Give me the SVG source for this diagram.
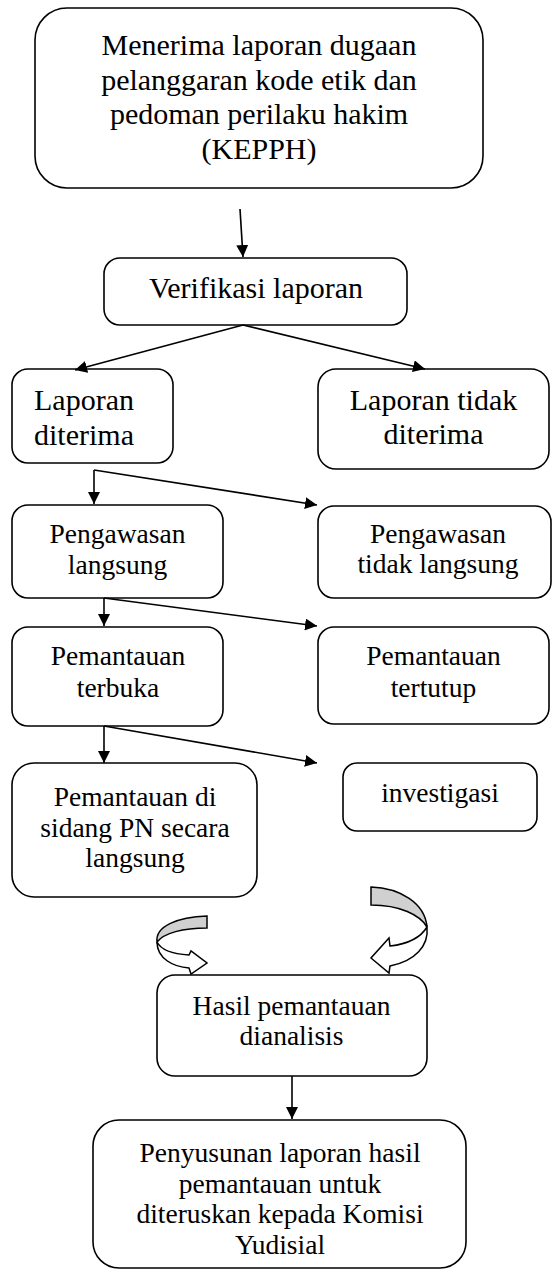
<svg xmlns="http://www.w3.org/2000/svg" width="552" height="1272" viewBox="0 0 552 1272">
<style>
.box{fill:#fff;stroke:#000;stroke-width:1.6}
.t{font-family:"Liberation Serif","Times New Roman",serif;fill:#000;text-anchor:middle}
.big{font-size:30px}
.sm{font-size:27.5px}
.ln{fill:none;stroke:#000;stroke-width:1.6}
.ca{stroke:#000;stroke-width:1.5;stroke-linejoin:miter}
</style>
<defs>
<marker id="ah" markerWidth="12" markerHeight="12" refX="12" refY="6" orient="auto" markerUnits="userSpaceOnUse">
<path d="M0,0 L12,6 L0,12 Z" fill="#000"/>
</marker>
</defs>
<rect width="552" height="1272" fill="#fff"/>
<g id="n1">
<rect class="box" x="35" y="8" width="448" height="180" rx="32"/>
<text class="t big" x="259" y="55">Menerima laporan dugaan</text>
<text class="t big" x="259" y="89.5">pelanggaran kode etik dan</text>
<text class="t big" x="259" y="124">pedoman perilaku hakim</text>
<text class="t big" x="259" y="158.5">(KEPPH)</text>
</g>
<g id="n2">
<rect class="box" x="104" y="258" width="303" height="67" rx="16"/>
<text class="t big" x="256" y="298">Verifikasi laporan</text>
</g>
<g id="n3">
<rect class="box" x="12" y="369" width="161" height="94" rx="16"/>
<text class="t big" x="84" y="410">Laporan</text>
<text class="t big" x="84" y="445">diterima</text>
</g>
<g id="n4">
<rect class="box" x="318" y="369" width="231" height="100" rx="18"/>
<text class="t big" x="433.5" y="410">Laporan tidak</text>
<text class="t big" x="433.5" y="444">diterima</text>
</g>
<g id="n5">
<rect class="box" x="12" y="505" width="211" height="93" rx="16"/>
<text class="t sm" x="117.5" y="543">Pengawasan</text>
<text class="t sm" x="117.5" y="574">langsung</text>
</g>
<g id="n6">
<rect class="box" x="318" y="506" width="233" height="92" rx="16"/>
<text class="t sm" x="438" y="543">Pengawasan</text>
<text class="t sm" x="438" y="573">tidak langsung</text>
</g>
<g id="n7">
<rect class="box" x="12" y="627" width="211" height="99" rx="16"/>
<text class="t sm" x="118" y="665">Pemantauan</text>
<text class="t sm" x="118" y="697">terbuka</text>
</g>
<g id="n8">
<rect class="box" x="318" y="627" width="231" height="97" rx="16"/>
<text class="t sm" x="433.5" y="665">Pemantauan</text>
<text class="t sm" x="433.5" y="697">tertutup</text>
</g>
<g id="n9">
<rect class="box" x="12" y="763" width="245" height="134" rx="22"/>
<text class="t sm" x="135" y="806">Pemantauan di</text>
<text class="t sm" x="135" y="836.5">sidang PN secara</text>
<text class="t sm" x="135" y="867">langsung</text>
</g>
<g id="n10">
<rect class="box" x="343" y="763" width="194" height="68" rx="14"/>
<text class="t sm" x="440" y="802">investigasi</text>
</g>
<g id="n11">
<rect class="box" x="157" y="975" width="270" height="101" rx="18"/>
<text class="t sm" x="291.5" y="1015">Hasil pemantauan</text>
<text class="t sm" x="291.5" y="1045">dianalisis</text>
</g>
<g id="n12">
<rect class="box" x="93" y="1120" width="373" height="148" rx="26"/>
<text class="t sm" x="280" y="1162">Penyusunan laporan hasil</text>
<text class="t sm" x="280" y="1192.5">pemantauan untuk</text>
<text class="t sm" x="280" y="1223">diteruskan kepada Komisi</text>
<text class="t sm" x="280" y="1253.5">Yudisial</text>
</g>
<g id="connectors">
<line class="ln" x1="240" y1="209" x2="243" y2="257" marker-end="url(#ah)"/>
<line class="ln" x1="243" y1="325" x2="75" y2="370" marker-end="url(#ah)"/>
<line class="ln" x1="243" y1="325" x2="425" y2="369" marker-end="url(#ah)"/>
<line class="ln" x1="94" y1="470" x2="94" y2="504" marker-end="url(#ah)"/>
<line class="ln" x1="94" y1="470" x2="317" y2="505" marker-end="url(#ah)"/>
<line class="ln" x1="104" y1="598" x2="104" y2="626" marker-end="url(#ah)"/>
<line class="ln" x1="104" y1="598" x2="317" y2="626" marker-end="url(#ah)"/>
<line class="ln" x1="104" y1="726" x2="104" y2="763" marker-end="url(#ah)"/>
<line class="ln" x1="104" y1="726" x2="317" y2="763" marker-end="url(#ah)"/>
<line class="ln" x1="292" y1="1076" x2="292" y2="1119" marker-end="url(#ah)"/>
<g id="curved-left">
<path class="ca" fill="#d0d0d0" d="M207,916 L207,928 C183,928 164,933 157,942 C155,926 178,917 207,916 Z"/>
<path class="ca" fill="#fff" d="M157,942 C157,959 174,967 189,968 L191,974 L207,963 L191,951 L189,955 C173,954 161,950 157,942 Z"/>
</g>
<g id="curved-right">
<path class="ca" fill="#d0d0d0" d="M371,887 C400,888 425,903 427,927 C420,915 400,905 371,905 Z"/>
<path class="ca" fill="#fff" d="M427,927 C429,946 415,961 390,966 L389,973 L371,958 L389,938 L390,946 C408,944 421,937 427,927 Z"/>
</g>
</g>
</svg>
